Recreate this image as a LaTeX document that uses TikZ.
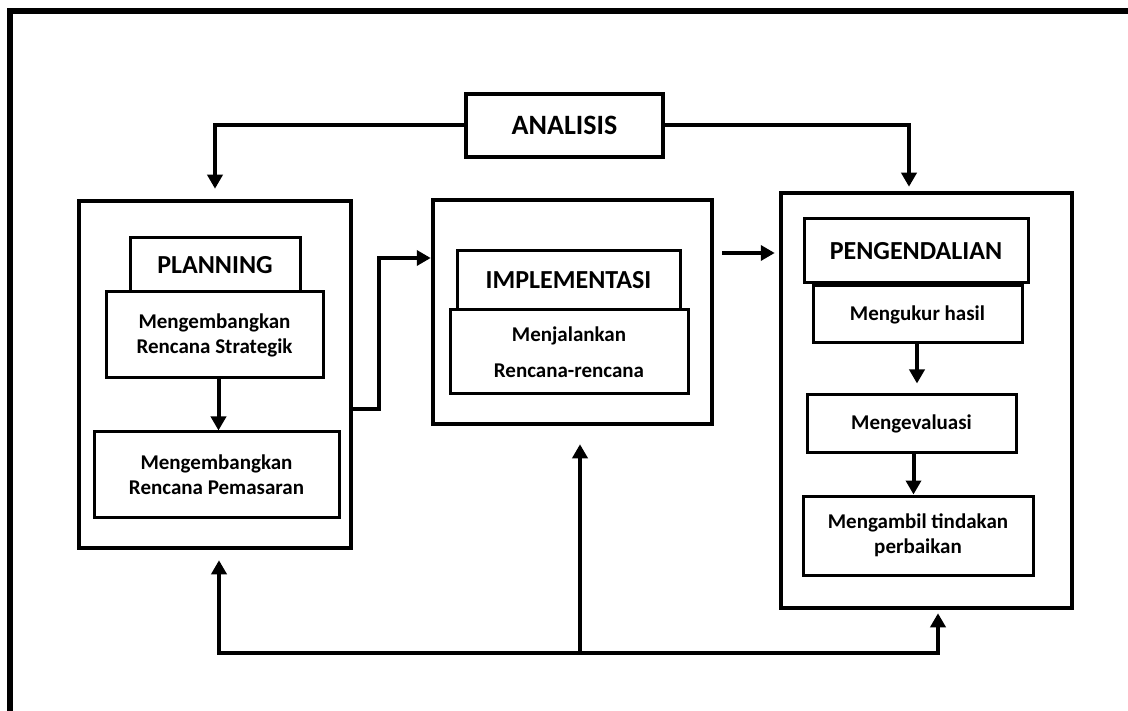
\documentclass[tikz,border=0pt]{standalone}
\usepackage{fontspec}
\setmainfont{Carlito}
\usetikzlibrary{arrows.meta}

\begin{document}
\begin{tikzpicture}[
    x=1pt, y=-1pt,
    every node/.style={draw, rectangle, inner sep=0pt, align=center, font=\fontsize{21}{25}\selectfont\bfseries},
    bigbox/.style={line width=4.5pt},
    box/.style={line width=3pt},
    head/.style={box, font=\fontsize{26}{30}\selectfont\bfseries},
    arr/.style={-{Triangle[length=14pt,width=15pt]}, line width=4pt},
    line join=miter
]
\clip (0,0) rectangle (1128,711);

% Frame
\draw[line width=6pt] (10,11) rectangle (1160,740);

% Analysis
\node[box, line width=4pt, minimum width=197pt, minimum height=63pt, font=\fontsize{28}{32}\selectfont\bfseries] (ana) at (564.5,125.5) {ANALISIS};

% Planning
\node[bigbox, minimum width=272pt, minimum height=347pt] (plan) at (215,374.5) {};
\node[head, minimum width=170pt, minimum height=54pt] (planhd) at (215,265) {PLANNING};
\node[box, minimum width=217pt, minimum height=86pt] (strat) at (214.5,335) {Mengembangkan\\Rencana Strategik};
\node[box, minimum width=245pt, minimum height=85pt] (pemas) at (216.5,474.5) {Mengembangkan\\Rencana Pemasaran};

% Implementation
\node[bigbox, minimum width=279pt, minimum height=224pt] (impl) at (572.5,312) {};
\node[head, minimum width=223pt, minimum height=59pt] (implhd) at (568.5,280.5) {IMPLEMENTASI};
\node[box, minimum width=238pt, minimum height=84pt, font=\fontsize{21}{36}\selectfont\bfseries] (jalan) at (569,352) {Menjalankan\\Rencana-rencana};

% Control
\node[bigbox, minimum width=291pt, minimum height=415pt] (peng) at (926.5,400.5) {};
\node[head, minimum width=224pt, minimum height=64pt] (penghd) at (916,251) {PENGENDALIAN};
\node[box, minimum width=209pt, minimum height=57pt] (ukur) at (917.5,314.5) {Mengukur hasil};
\node[box, minimum width=209pt, minimum height=57pt] (eval) at (911.5,423.5) {Mengevaluasi};
\node[box, minimum width=230pt, minimum height=79pt] (ambil) at (918,535.5) {Mengambil tindakan\\perbaikan};

% Arrows from analysis
\draw[arr, shorten >=10pt] (ana.west) -| (plan.north);
\draw[arr, shorten >=4pt] (ana.east) -| ([xshift=-17.5pt]peng.north);

% Arrows inside the boxes
\draw[arr] ([xshift=4pt]strat.south) -- ([xshift=4pt]strat.south |- pemas.north);
\draw[arr, shorten >=10pt] ([xshift=-0.5pt]ukur.south) -- ([xshift=-0.5pt]ukur.south |- eval.north);
\draw[arr] ([xshift=2pt]eval.south) -- ([xshift=2pt]eval.south |- ambil.north);

% Planning to implementation to control
\draw[arr] ([yshift=-34.5pt]plan.east) -- ++(26,0) |- ([yshift=54pt]impl.west);
\coordinate (go) at ([xshift=8pt,yshift=59pt]impl.east);
\draw[arr, shorten >=4pt] (go) -- (go -| peng.west);

% Feedback
\coordinate (fb) at (580,653);
\draw[arr, shorten >=10pt] (fb) -| ([xshift=4pt]plan.south);
\draw[arr, shorten >=18pt] (fb) -- (fb |- impl.south);
\draw[arr, shorten >=3pt] (fb) -| ([xshift=11.5pt]peng.south);

\end{tikzpicture}
\end{document}
